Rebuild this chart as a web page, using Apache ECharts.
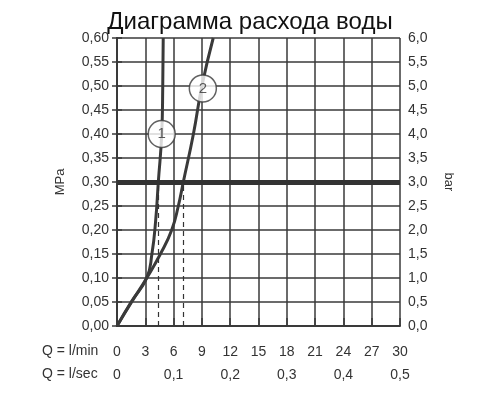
<!DOCTYPE html>
<html>
<head>
<meta charset="UTF-8">
<script src="https://cdn.jsdelivr.net/npm/echarts@6/dist/echarts.min.js"></script>
<style>body{margin:0}#main{width:500px;height:400px}</style>
</head>
<body>
<div id="main"></div>
<script>
var curve1 = [[0, 0], [1.5, 0.05], [3.15, 0.1], [3.7, 0.15], [4.1, 0.22], [4.38, 0.3], [4.74, 0.4], [4.85, 0.5], [4.9, 0.6]];
var curve2 = [[0, 0], [1.55, 0.05], [3.15, 0.1], [4.6, 0.15], [5.8, 0.2], [6.5, 0.25], [7.03, 0.3], [8.1, 0.4], [9.0, 0.5], [10.2, 0.6]];
var dashX = [4.38, 7.03];
var refPressure = 0.3;
var labels = [{ name: '1', x: 4.74, y: 0.4 }, { name: '2', x: 9.1, y: 0.495 }];

var chart = echarts.init(document.getElementById('main'));
var col = '#3a3a3a';
var fnt = 'Liberation Sans';
chart.setOption({
    animation: false,
    textStyle: { fontFamily: fnt },
    title: {
        text: 'Диаграмма расхода воды', left: 'center', top: 5,
        textStyle: { fontSize: 24, fontWeight: 'normal', color: '#111', fontFamily: fnt }
    },
    grid: { left: 117, right: 100, top: 38, bottom: 74 },
    xAxis: [{
        type: 'value', min: 0, max: 30, interval: 3,
        axisLine: { lineStyle: { color: col, width: 2 } },
        axisTick: { show: true, inside: true, length: 8, lineStyle: { color: col, width: 1.5 } },
        splitLine: { lineStyle: { color: col, width: 1.5 } },
        axisLabel: { color: '#333', fontSize: 14, margin: 19 }
    }, {
        type: 'value', min: 0, max: 30, interval: 6, position: 'bottom', offset: 23,
        axisLine: { show: false }, axisTick: { show: false }, splitLine: { show: false },
        axisLabel: { color: '#333', fontSize: 14, margin: 19,
            formatter: function (v) { return v === 0 ? '0' : (v / 60).toFixed(1).replace('.', ','); } }
    }],
    yAxis: [{
        type: 'value', min: 0, max: 0.6, interval: 0.05,
        name: 'MPa', nameLocation: 'middle', nameGap: 50, nameRotate: 90,
        nameTextStyle: { color: '#333', fontSize: 13 },
        axisLine: { show: true, lineStyle: { color: col, width: 2 } },
        axisTick: { show: true, length: 5, lineStyle: { color: col, width: 1.5 } },
        splitLine: { lineStyle: { color: col, width: 1.5 } },
        axisLabel: { color: '#333', fontSize: 14, formatter: function (v) { return v.toFixed(2).replace('.', ','); } }
    }, {
        type: 'value', min: 0, max: 6, interval: 0.5, position: 'right',
        name: 'bar', nameLocation: 'middle', nameGap: 42, nameRotate: -90,
        nameTextStyle: { color: '#333', fontSize: 13 },
        axisLine: { show: true, lineStyle: { color: col, width: 2 } },
        axisTick: { show: true, length: 5, lineStyle: { color: col, width: 1.5 } },
        splitLine: { show: false },
        axisLabel: { color: '#333', fontSize: 14, formatter: function (v) { return v.toFixed(1).replace('.', ','); } }
    }],
    graphic: [
        { type: 'text', left: 42, top: 344, style: { text: 'Q = l/min', font: '14px ' + fnt, fill: '#333' } },
        { type: 'text', left: 42, top: 367, style: { text: 'Q = l/sec', font: '14px ' + fnt, fill: '#333' } }
    ],
    series: [{
        type: 'line', data: curve1, smooth: true, symbol: 'none',
        lineStyle: { color: col, width: 3 }
    }, {
        type: 'line', data: curve2, smooth: true, symbol: 'none',
        lineStyle: { color: col, width: 3 },
        markLine: {
            silent: true, symbol: 'none', label: { show: false },
            data: [
                { yAxis: refPressure, lineStyle: { color: '#333', width: 5, type: 'solid' } }
            ].concat(dashX.map(function (x) {
                return [{ coord: [x, 0], lineStyle: { color: '#333', width: 1.2, type: [5, 4] } }, { coord: [x, refPressure] }];
            }))
        }
    }, {
        type: 'scatter', z: 10,
        data: labels.map(function (l) { return { name: l.name, value: [l.x, l.y] }; }),
        symbolSize: 27,
        itemStyle: { color: '#fff', borderColor: col, borderWidth: 1.5 },
        label: { show: true, position: 'inside', formatter: '{b}', color: '#333', fontSize: 15 }
    }]
});
</script>
</body>
</html>
